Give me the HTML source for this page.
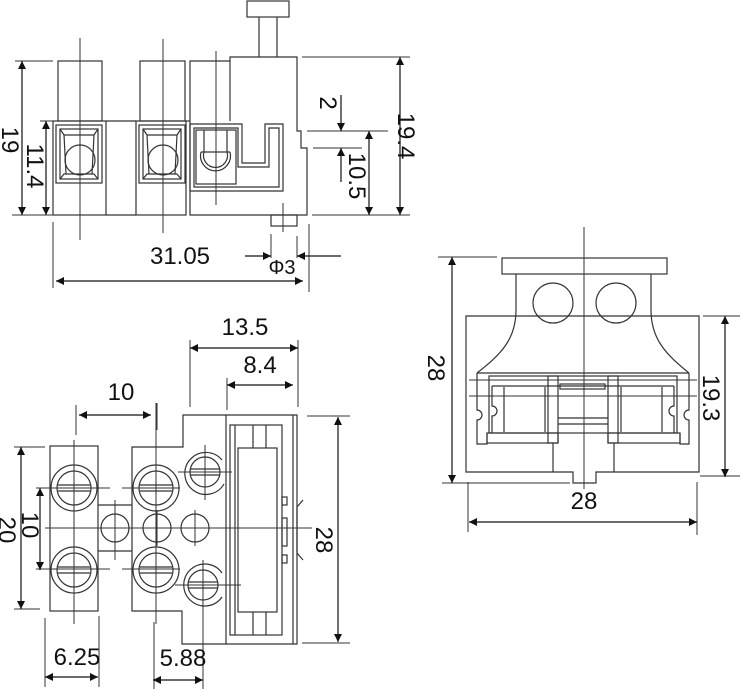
<!DOCTYPE html>
<html><head><meta charset="utf-8"><style>
html,body{margin:0;padding:0;background:#fff;}
svg{display:block;}
text{font-family:"Liberation Sans",Arial,sans-serif;fill:#111;}
</style></head><body>
<svg width="740" height="689" viewBox="0 0 740 689" xmlns="http://www.w3.org/2000/svg">
<defs>
<marker id="a" viewBox="0 0 10 10" refX="10" refY="5" markerWidth="10" markerHeight="8" orient="auto-start-reverse" markerUnits="userSpaceOnUse"><path d="M0,0 L10,5 L0,10 z" fill="#111"/></marker>
</defs>
<g fill="none" stroke="#333" stroke-width="1.2">
<!-- ===== TOP VIEW ===== -->
<rect x="247" y="1" width="42" height="16"/>
<line x1="259" y1="17" x2="259" y2="57"/><line x1="277" y1="17" x2="277" y2="57"/>
<rect x="58" y="61" width="44" height="60"/>
<rect x="140" y="61" width="45" height="60"/>
<path d="M190,121 V61 H230 V57 H297 V131 H301 V148 H307 V215 H190 Z"/>
<line x1="230" y1="61" x2="230" y2="121"/>
<rect x="53" y="121" width="53" height="94"/>
<rect x="136" y="121" width="50" height="94"/>
<line x1="106" y1="121" x2="136" y2="121"/><line x1="106" y1="215" x2="136" y2="215"/>
<line x1="186" y1="121" x2="190" y2="121"/>
<rect x="271" y="215" width="26" height="11"/>
<rect x="56" y="125" width="46" height="58"/><rect x="60" y="129" width="38" height="50"/>
<path d="M60,129 L64,135 H94 L98,129 M60,179 L64,174 H94 L98,179 M64,135 L66,174 M94,135 L92,174"/>
<circle cx="80" cy="160" r="15"/>
<rect x="139" y="125" width="46" height="58"/><rect x="143" y="129" width="38" height="50"/>
<path d="M143,129 L147,135 H177 L181,129 M143,179 L147,174 H177 L181,179 M147,135 L149,174 M177,135 L175,174"/>
<circle cx="163" cy="160" r="15"/>
<path d="M190,124 H242 V163 H265 V124 H283 V191 H190 Z"/>
<path d="M194,128 H238 V167 H269 V128 H279 V187 H194 Z"/>
<rect x="196" y="130" width="40" height="54"/>
<path d="M201,152 A15,15 0 1 0 230,152"/><path d="M204,152 A12,12 0 1 0 227,152"/>
<line x1="204" y1="130" x2="204" y2="152"/><line x1="227" y1="130" x2="227" y2="152"/>
<line x1="201" y1="152" x2="230" y2="152"/>
<g stroke-width="1">
<line x1="80" y1="38" x2="80" y2="240"/><line x1="163" y1="39" x2="163" y2="233"/>
<line x1="216" y1="51" x2="216" y2="205"/><line x1="283" y1="203" x2="283" y2="232"/>
<line x1="15" y1="61" x2="53" y2="61"/><line x1="12" y1="215" x2="53" y2="215"/>
<line x1="40" y1="121" x2="53" y2="121"/>
<line x1="302" y1="57" x2="410" y2="57"/><line x1="312" y1="215" x2="410" y2="215"/>
<line x1="307" y1="131" x2="388" y2="131"/><line x1="313" y1="148" x2="362" y2="148"/>
<line x1="53" y1="222" x2="53" y2="288"/><line x1="309" y1="224" x2="309" y2="292"/>
<line x1="271" y1="234" x2="271" y2="258"/><line x1="297" y1="236" x2="297" y2="258"/>
</g>
<g stroke="#111" stroke-width="1.2">
<line x1="22" y1="61" x2="22" y2="215" marker-start="url(#a)" marker-end="url(#a)"/>
<line x1="46" y1="121" x2="46" y2="215" marker-start="url(#a)" marker-end="url(#a)"/>
<line x1="400" y1="57" x2="400" y2="215" marker-start="url(#a)" marker-end="url(#a)"/>
<line x1="369" y1="131" x2="369" y2="215" marker-start="url(#a)" marker-end="url(#a)"/>
<line x1="341" y1="95" x2="341" y2="131" marker-end="url(#a)"/>
<line x1="341" y1="182" x2="341" y2="148" marker-end="url(#a)"/>
<line x1="56" y1="281" x2="303" y2="281" marker-start="url(#a)" marker-end="url(#a)"/>
<line x1="245" y1="256" x2="271" y2="256" marker-end="url(#a)"/>
<line x1="341" y1="256" x2="297" y2="256" marker-end="url(#a)"/>
</g>

<!-- ===== BOTTOM-LEFT VIEW ===== -->
<rect x="50" y="446" width="48" height="165"/>
<path d="M132,447 H183 V415 H297 V644 H182 V611 H132 Z"/>
<line x1="293" y1="415" x2="293" y2="644"/>
<line x1="226" y1="415" x2="226" y2="644"/>
<line x1="98" y1="505" x2="132" y2="505"/><line x1="98" y1="551" x2="132" y2="551"/>
<rect x="230" y="425" width="52" height="210"/>
<line x1="235" y1="425" x2="235" y2="635"/>
<rect x="238" y="448" width="39" height="164"/>
<line x1="253" y1="425" x2="253" y2="448"/><line x1="266" y1="425" x2="266" y2="448"/>
<line x1="253" y1="612" x2="253" y2="635"/><line x1="266" y1="612" x2="266" y2="635"/>
<rect x="282" y="497" width="5" height="8"/><rect x="282" y="518" width="5" height="28"/><rect x="282" y="555" width="5" height="8"/>
<path d="M297,507 L303,500 M297,553 L303,560 M297,507 V553"/>
<g>
<circle cx="74" cy="488" r="23"/><circle cx="74" cy="488" r="17"/>
<line x1="58" y1="485" x2="90" y2="485"/><line x1="58" y1="491" x2="90" y2="491"/>
<circle cx="74" cy="570" r="23"/><circle cx="74" cy="570" r="17"/>
<line x1="58" y1="567" x2="90" y2="567"/><line x1="58" y1="573" x2="90" y2="573"/>
<circle cx="156" cy="488" r="23"/><circle cx="156" cy="488" r="17"/>
<line x1="140" y1="485" x2="172" y2="485"/><line x1="140" y1="491" x2="172" y2="491"/>
<circle cx="156" cy="570" r="23"/><circle cx="156" cy="570" r="17"/>
<line x1="140" y1="567" x2="172" y2="567"/><line x1="140" y1="573" x2="172" y2="573"/>
<path d="M224,484 A21,21 0 1 1 222,460"/><circle cx="205" cy="472" r="15"/>
<line x1="190" y1="469" x2="220" y2="469"/><line x1="190" y1="475" x2="220" y2="475"/>
<path d="M222,573 A21,21 0 1 0 222,597"/><circle cx="203" cy="585" r="15"/>
<line x1="188" y1="582" x2="218" y2="582"/><line x1="188" y1="588" x2="218" y2="588"/>
<circle cx="115" cy="528" r="14"/><circle cx="157" cy="528" r="14"/><circle cx="195" cy="528" r="14"/>
</g>
<g stroke-width="1">
<line x1="45" y1="528" x2="312" y2="528"/>
<line x1="74" y1="440" x2="74" y2="624"/><line x1="156" y1="403" x2="156" y2="624"/>
<line x1="115" y1="500" x2="115" y2="560"/><line x1="157" y1="510" x2="157" y2="546"/>
<line x1="195" y1="510" x2="195" y2="546"/>
<line x1="205" y1="445" x2="205" y2="500"/><line x1="203" y1="560" x2="203" y2="625"/>
<line x1="178" y1="472" x2="232" y2="472"/><line x1="175" y1="585" x2="241" y2="585"/>
<line x1="36" y1="488" x2="110" y2="488"/><line x1="122" y1="488" x2="180" y2="488"/>
<line x1="36" y1="569" x2="110" y2="569"/><line x1="122" y1="569" x2="180" y2="569"/>
<line x1="190" y1="340" x2="190" y2="407"/><line x1="298" y1="340" x2="298" y2="407"/>
<line x1="227" y1="378" x2="227" y2="410"/>
<line x1="76" y1="405" x2="76" y2="435"/><line x1="157" y1="403" x2="157" y2="430"/>
<line x1="14" y1="447" x2="45" y2="447"/><line x1="14" y1="609" x2="40" y2="609"/>
<line x1="307" y1="416" x2="350" y2="416"/><line x1="302" y1="643" x2="350" y2="643"/>
<line x1="45" y1="618" x2="45" y2="687"/><line x1="99" y1="616" x2="99" y2="687"/>
<line x1="154" y1="622" x2="154" y2="689"/><line x1="203" y1="623" x2="203" y2="689"/>
</g>
<g stroke="#111" stroke-width="1.2">
<line x1="190" y1="348" x2="298" y2="348" marker-start="url(#a)" marker-end="url(#a)"/>
<line x1="227" y1="385" x2="293" y2="385" marker-start="url(#a)" marker-end="url(#a)"/>
<line x1="79" y1="415" x2="151" y2="415" marker-start="url(#a)" marker-end="url(#a)"/>
<line x1="21" y1="447" x2="21" y2="609" marker-start="url(#a)" marker-end="url(#a)"/>
<line x1="40" y1="488" x2="40" y2="570" marker-start="url(#a)" marker-end="url(#a)"/>
<line x1="338" y1="417" x2="338" y2="642" marker-start="url(#a)" marker-end="url(#a)"/>
<line x1="45" y1="677" x2="98" y2="677" marker-start="url(#a)" marker-end="url(#a)"/>
<line x1="153" y1="680" x2="203" y2="680" marker-start="url(#a)" marker-end="url(#a)"/>
</g>

<!-- ===== RIGHT VIEW ===== -->
<rect x="502" y="258" width="165" height="16"/>
<path d="M516,274 V310 C516,340 500,355 477,373 M651,274 V310 C651,340 667,355 689,373"/>
<path d="M466,316 H699 V472 H596 V483 H573 V472 H466 Z"/>
<line x1="477" y1="373" x2="689" y2="373"/>
<circle cx="553" cy="303" r="20"/><circle cx="616" cy="303" r="20"/>
<rect x="489" y="376" width="188" height="57"/>
<path d="M477,373 V410 A5,5 0 0 1 477,420 V444 H487 V433"/>
<path d="M689,373 V410 A5,5 0 0 0 689,420 V444 H680 V433"/>
<path d="M492,386 V406 A5,5 0 0 1 492,416 V433"/>
<path d="M674,386 V406 A5,5 0 0 0 674,416 V433"/>
<line x1="492" y1="386" x2="674" y2="386"/>
<rect x="487" y="433" width="71" height="10"/><rect x="608" y="433" width="72" height="10"/>
<rect x="548" y="376" width="10" height="67"/><rect x="608" y="376" width="10" height="67"/>
<rect x="560" y="384" width="45" height="5"/>
<line x1="558" y1="418" x2="608" y2="418"/><line x1="558" y1="424" x2="608" y2="424"/>
<line x1="504" y1="387" x2="504" y2="432"/><line x1="545" y1="387" x2="545" y2="432"/>
<line x1="621" y1="387" x2="621" y2="432"/><line x1="662" y1="387" x2="662" y2="432"/>
<line x1="553" y1="443" x2="553" y2="472"/><line x1="614" y1="443" x2="614" y2="472"/>
<g stroke-width="1">
<line x1="584" y1="227" x2="584" y2="489"/>
<line x1="469" y1="380" x2="697" y2="380"/><line x1="469" y1="396" x2="697" y2="396"/>
<line x1="438" y1="257" x2="497" y2="257"/><line x1="442" y1="483" x2="570" y2="483"/>
<line x1="703" y1="316" x2="740" y2="316"/><line x1="700" y1="476" x2="740" y2="476"/>
<line x1="468" y1="482" x2="468" y2="532"/><line x1="697" y1="482" x2="697" y2="535"/>
</g>
<g stroke="#111" stroke-width="1.2">
<line x1="452" y1="257" x2="452" y2="483" marker-start="url(#a)" marker-end="url(#a)"/>
<line x1="725" y1="316" x2="725" y2="477" marker-start="url(#a)" marker-end="url(#a)"/>
<line x1="469" y1="522" x2="697" y2="522" marker-start="url(#a)" marker-end="url(#a)"/>
</g>
</g>

<!-- ===== TEXT ===== -->
<g font-size="24">
<text transform="translate(2,140) rotate(90)" text-anchor="middle">19</text>
<text transform="translate(27,166) rotate(90)" text-anchor="middle">11.4</text>
<text transform="translate(398,136) rotate(90)" text-anchor="middle">19.4</text>
<text transform="translate(320,103) rotate(90)" text-anchor="middle">2</text>
<text transform="translate(349,176) rotate(90)" text-anchor="middle">10.5</text>
<text x="180" y="264" text-anchor="middle">31.05</text>
<text x="282" y="274" text-anchor="middle" font-size="20">Φ3</text>
<text x="245" y="335" text-anchor="middle">13.5</text>
<text x="260" y="373" text-anchor="middle">8.4</text>
<text x="121" y="400" text-anchor="middle">10</text>
<text transform="translate(-1,530) rotate(90)" text-anchor="middle">20</text>
<text transform="translate(22,525) rotate(90)" text-anchor="middle">10</text>
<text transform="translate(316,540) rotate(90)" text-anchor="middle">28</text>
<text x="77" y="665" text-anchor="middle">6.25</text>
<text x="183" y="666" text-anchor="middle">5.88</text>
<text transform="translate(428,368) rotate(90)" text-anchor="middle">28</text>
<text transform="translate(703,398) rotate(90)" text-anchor="middle">19.3</text>
<text x="584" y="509" text-anchor="middle">28</text>
</g>
</svg>
</body></html>
